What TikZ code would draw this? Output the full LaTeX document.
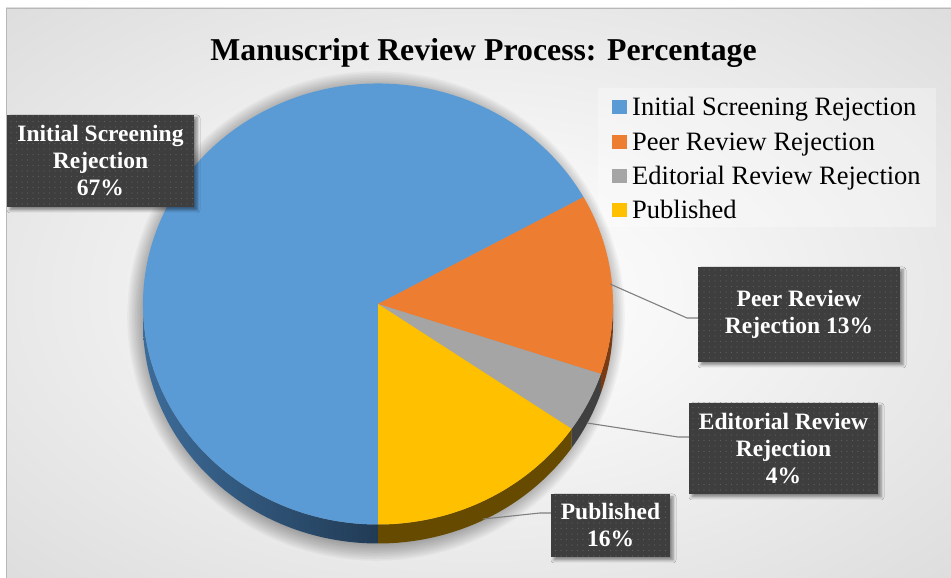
\documentclass[tikz,border=0pt]{standalone}
\usepackage{fontspec}
\setmainfont{Liberation Serif}
\usetikzlibrary{shadows.blur,patterns.meta}
\definecolor{cblue}{HTML}{5B9BD5}
\definecolor{corange}{HTML}{ED7D31}
\definecolor{cgray}{HTML}{A5A5A5}
\definecolor{cyellow}{HTML}{FFC000}
\definecolor{sblueL}{HTML}{3D6C99}
\definecolor{sblueR}{HTML}{213B55}
\definecolor{syellow}{HTML}{654A00}
\definecolor{sgray}{HTML}{404040}
\definecolor{sorange}{HTML}{7A3A12}
\definecolor{boxgray}{HTML}{3E3E3E}
\definecolor{dotgray}{HTML}{606060}
\definecolor{leadergray}{HTML}{7F7F7F}
\pgfdeclareradialshading{chartbg}{\pgfpoint{0bp}{0bp}}{color(0bp)=(white); color(10bp)=(white!97!black); color(50bp)=(white!81!black); color(72bp)=(white!77!black)}
\newcommand\lblfont{\fontsize{23.5}{27}\selectfont\bfseries}
\newcommand\legfont{\fontsize{26.5}{30}\selectfont}
\newcommand\ttlfont{\fontsize{31.8}{36}\selectfont\bfseries}
\begin{document}
\begin{tikzpicture}[x=1pt,y=1pt,
  lblbox/.style={fill=boxgray, text=white, font=\lblfont, align=center, inner sep=0pt,
    blur shadow={shadow xshift=3pt, shadow yshift=-3pt, shadow blur radius=3pt, shadow opacity=45},
    postaction={pattern={Dots[distance=5.5pt, radius=0.7pt]}, pattern color=dotgray}},
  leader/.style={draw=leadergray, line width=1.1pt},
  legsq/.style={fill=#1, minimum width=15pt, minimum height=14pt, inner sep=0pt},
  legtxt/.style={anchor=base west, font=\legfont, inner sep=0pt},
  shadowring/.style={fill=black, fill opacity=0.032}
]
\useasboundingbox (0,0) rectangle (951,578);
\fill[white] (0,0) rectangle (951,578);
\shade[shading=chartbg] (6,0) rectangle (951,570);
\draw[white!72!black, line width=0.6pt] (6,0) rectangle (951,570);

% legend background
\fill[white, opacity=0.3] (598,351) rectangle (936,490);

% pie soft shadow
\coordinate (pc) at (378,274);
\foreach \k in {0,...,13}{
  \pgfmathsetmacro\rxx{228+1.6*\k}
  \pgfmathsetmacro\ryy{224+1.6*\k}
  \fill[shadowring] (376,262) ellipse[x radius=\rxx, y radius=\ryy];
}
% sides
\shade[left color=sblueL, right color=sblueR] (pc) ++(180:235 and 220.5) arc[start angle=180, end angle=270, x radius=235, y radius=220.5] -- ++(0,-19) arc[start angle=270, end angle=180, x radius=235, y radius=220.5] -- cycle;
\fill[syellow] (pc) ++(270:235 and 220.5) arc[start angle=270, end angle=325.5, x radius=235, y radius=220.5] -- ++(0,-19) arc[start angle=325.5, end angle=270, x radius=235, y radius=220.5] -- cycle;
\fill[sgray] (pc) ++(325.5:235 and 220.5) arc[start angle=325.5, end angle=341.5, x radius=235, y radius=220.5] -- ++(0,-19) arc[start angle=341.5, end angle=325.5, x radius=235, y radius=220.5] -- cycle;
\fill[sorange] (pc) ++(341.5:235 and 220.5) arc[start angle=341.5, end angle=360, x radius=235, y radius=220.5] -- ++(0,-19) arc[start angle=360, end angle=341.5, x radius=235, y radius=220.5] -- cycle;
% top faces
\fill[cblue] (pc) -- ++(29:235 and 220.5) arc[start angle=29, end angle=270, x radius=235, y radius=220.5] -- cycle;
\fill[corange] (pc) -- ++(-18.5:235 and 220.5) arc[start angle=-18.5, end angle=29, x radius=235, y radius=220.5] -- cycle;
\fill[cgray] (pc) -- ++(-34.5:235 and 220.5) arc[start angle=-34.5, end angle=-18.5, x radius=235, y radius=220.5] -- cycle;
\fill[cyellow] (pc) -- ++(-90:235 and 220.5) arc[start angle=-90, end angle=-34.5, x radius=235, y radius=220.5] -- cycle;

% data label boxes
\node[lblbox, minimum width=187pt, minimum height=92pt] (ini) at (100.5,417) {Initial Screening\\Rejection\\67\%};
\node[lblbox, minimum width=202pt, minimum height=95pt] (peer) at (799,263.5) {Peer Review\\Rejection 13\%};
\node[lblbox, minimum width=189pt, minimum height=91pt] (edit) at (783.5,129.5) {Editorial Review\\Rejection\\4\%};
\node[lblbox, minimum width=119pt, minimum height=63pt] (pub) at (610.5,52.5) {Published\\16\%};

% leader lines
\coordinate (pe1) at (610,294);
\coordinate (pe2) at (687,260);
\draw[leader] (pe1) -- (pe2) -- (pe2 -| peer.west);
\coordinate (ed1) at (587,155);
\coordinate (ed2) at (678,141);
\draw[leader] (ed1) -- (ed2) -- (ed2 -| edit.west);
\coordinate (pu1) at (483,59);
\coordinate (pu2) at (540,65);
\draw[leader] (pu1) -- (pu2) -- (pu2 -| pub.west);

% legend
\node[legsq=cblue] (lg1) at (619.5,470.5) {};
\node[legtxt] (lt1) at (632,462) {Initial Screening Rejection};
\node[legsq=corange] (lg2) at (619.5,436.2) {};
\node[legtxt] (lt2) at (632,427.7) {Peer Review Rejection};
\node[legsq=cgray] (lg3) at (619.5,401.9) {};
\node[legtxt] (lt3) at (632,393.4) {Editorial Review Rejection};
\node[legsq=cyellow] (lg4) at (619.5,367.6) {};
\node[legtxt] (lt4) at (632,359.1) {Published};

% title
\node[anchor=base, font=\ttlfont, inner sep=0pt] (title) at (483.5,517) {Manuscript Review Process: Percentage};
\end{tikzpicture}
\end{document}
